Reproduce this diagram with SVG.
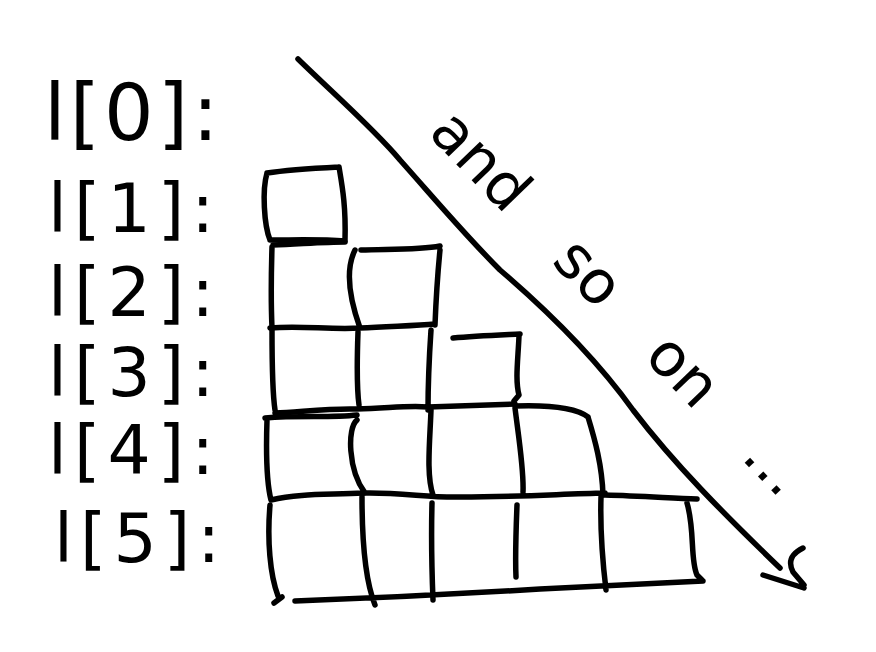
<svg xmlns="http://www.w3.org/2000/svg" width="876" height="652" viewBox="0 0 876 652">
<style>
.s{fill:none;stroke:#000;stroke-width:5.5;stroke-linecap:round;stroke-linejoin:round}
.lbl{font-family:"DejaVu Sans","Liberation Sans",sans-serif;font-size:68px;letter-spacing:7px;fill:#000}
.note{font-family:"DejaVu Sans","Liberation Sans",sans-serif;font-size:60px;word-spacing:46px;fill:#000}
</style>
<rect width="876" height="652" fill="#fff"/>
<g id="row-0">
<text class="lbl" x="44" y="140" style="font-size:78px;letter-spacing:4px">l[0]:</text>
</g>
<g id="row-1">
<text class="lbl" x="48" y="232">l[1]:</text>
<path class="s" d="M267,173 C280,171 320,168 339,167 M267,173 C262,190 264,225 270,240 M339,167 C342,185 346,205 345,240 M270,240 C295,240 320,239 345,241"/>
</g>
<g id="row-2">
<text class="lbl" x="48" y="316">l[2]:</text>
<path class="s" d="M273,245 C300,244 325,242 345,242 M361,250 C390,249 420,250 440,246 M272,247 C271,280 271,305 272,328 M355,250 C345,270 350,300 360,328 M440,250 C437,280 436,300 435,325 M270,328 C300,325 330,330 360,328 C390,326 415,326 435,324"/>
</g>
<g id="row-3">
<text class="lbl" x="48" y="396">l[3]:</text>
<path class="s" d="M453,338 C475,336 500,335 520,334 M272,330 C272,360 272,390 275,410 M358,332 C357,360 357,390 359,405 M431,330 C429,360 428,390 428,410 M519,336 C518,360 515,380 519,395 L514,401 M275,413 C300,412 330,408 357,409 C385,409 405,405 428,407 C460,406 490,405 515,404"/>
</g>
<g id="row-4">
<text class="lbl" x="48" y="474">l[4]:</text>
<path class="s" d="M265,418 C300,415 330,418 357,415 M515,406 C545,405 575,407 588,417 M267,420 C266,450 266,480 271,500 M357,420 C347,428 348,470 365,493 M431,410 C430,440 426,475 433,495 M515,408 C519,440 524,470 523,492 M588,417 C595,440 602,465 603,495 M271,500 C300,493 330,495 363,493 C400,492 430,498 460,497 C520,497 560,494 605,493"/>
</g>
<g id="row-5">
<text class="lbl" x="54" y="562">l[5]:</text>
<path class="s" d="M605,495 C640,496 670,498 697,499 M270,505 C267,540 270,575 278,596 M362,497 C362,540 365,580 375,605 M432,503 C431,540 432,575 433,600 M517,505 C516,530 515,555 516,577 M601,497 C600,530 603,565 606,590 M687,503 C695,530 690,560 697,575 L702,580 M295,601 C380,598 460,594 540,589 C600,586 660,583 703,581 M274,603 L282,597"/>
</g>
<g id="connectors">
<path class="s" d="M298,59 C335,95 375,130 400,160 C440,205 465,235 500,270 C535,300 590,350 633,410 C675,465 725,515 780,568"/>
<path class="s" d="M763,575 L804,588 M803,548 C793,553 787,560 793,572 L804,585"/>
<text class="note" x="427" y="134" transform="rotate(46 427 134)">and so on ...</text>
</g>
</svg>
